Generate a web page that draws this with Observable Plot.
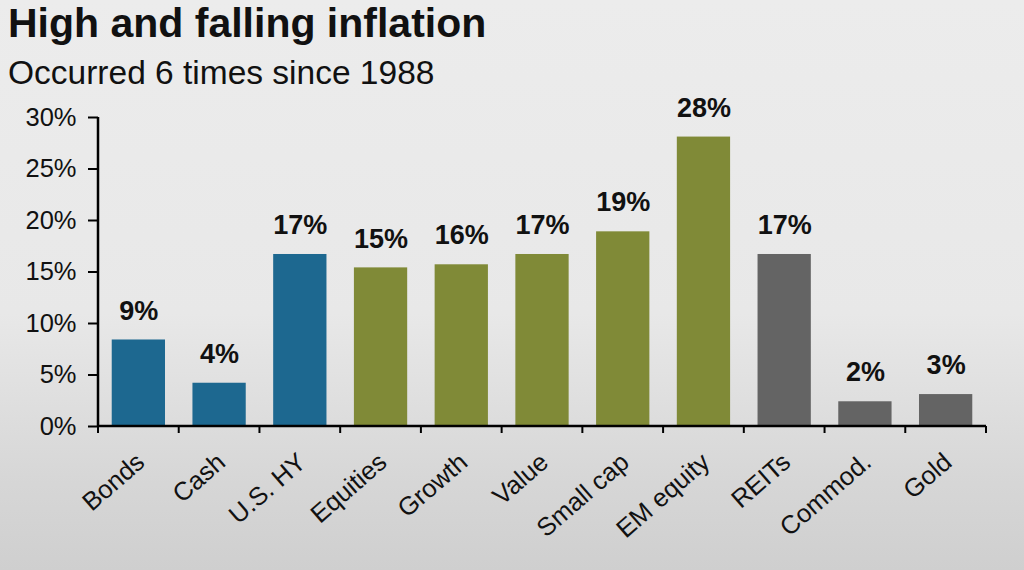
<!DOCTYPE html>
<html>
<head>
<meta charset="utf-8">
<script src="https://cdn.jsdelivr.net/npm/d3@7"></script>
<script src="https://cdn.jsdelivr.net/npm/@observablehq/plot@0.6"></script>
<style>
  html, body { margin: 0; padding: 0; }
  body {
    width: 1024px; height: 570px; overflow: hidden;
    background: linear-gradient(to bottom, #ececec 0%, #e8e8e8 55%, #d6d6d6 85%, #cfcfcf 100%);
    font-family: "Liberation Sans", Arial, sans-serif;
    color: #111;
  }
  #title { position: absolute; left: 8px; top: 0px; font-size: 41px; font-weight: bold; line-height: 1.15; white-space: nowrap; }
  #subtitle { position: absolute; left: 8px; top: 54px; font-size: 33.5px; line-height: 1.15; white-space: nowrap; }
  #chart { position: absolute; left: 0; top: 95px; }
  #chart svg { background: transparent; overflow: visible; }
</style>
</head>
<body>
<div id="title">High and falling inflation</div>
<div id="subtitle">Occurred 6 times since 1988</div>
<div id="chart"></div>
<script>
const categories = ["Bonds", "Cash", "U.S. HY", "Equities", "Growth", "Value", "Small cap", "EM equity", "REITs", "Commod.", "Gold"];
const values = [8.4, 4.2, 16.7, 15.4, 15.7, 16.7, 18.9, 28.1, 16.7, 2.4, 3.1];
const valueLabels = ["9%", "4%", "17%", "15%", "16%", "17%", "19%", "28%", "17%", "2%", "3%"];
const groups = ["Fixed income", "Fixed income", "Fixed income", "Equity", "Equity", "Equity", "Equity", "Equity", "Alternatives", "Alternatives", "Alternatives"];
const groupNames = ["Fixed income", "Equity", "Alternatives"];
const groupColors = ["#1d6890", "#808a37", "#646464"];
const yTicks = [0, 5, 10, 15, 20, 25, 30];

const data = categories.map((c, i) => ({category: c, value: values[i], label: valueLabels[i], group: groups[i]}));

// axis lines and tick marks at band boundaries, drawn from the scales
function axisLines(index, scales, values, dims) {
  const x = scales.x, y = scales.y;
  const dom = x.domain();
  const bw = x.bandwidth();
  const step = x.step();
  const gap = (step - bw) / 2;
  const y0 = y(0);
  const g = d3.create("svg:g");
  const xs = dom.map(d => x(d) - gap);
  xs.push(x(dom[dom.length - 1]) + bw + gap);
  g.append("line").attr("x1", xs[0]).attr("x2", xs[0]).attr("y1", y(30)).attr("y2", y0)
    .attr("stroke", "#000").attr("stroke-width", 2.5);
  g.append("line").attr("x1", xs[0]).attr("x2", xs[xs.length - 1]).attr("y1", y0).attr("y2", y0)
    .attr("stroke", "#000").attr("stroke-width", 2.5);
  for (const px of xs) {
    g.append("line").attr("x1", px).attr("x2", px).attr("y1", y0).attr("y2", y0 + 7)
      .attr("stroke", "#000").attr("stroke-width", 2);
  }
  return g.node();
}

const plot = Plot.plot({
  width: 1024,
  height: 475,
  marginLeft: 98,
  marginRight: 38,
  marginTop: 22,
  marginBottom: 144,
  style: {background: "transparent", fontFamily: "Liberation Sans, Arial, sans-serif", color: "#111"},
  x: {domain: categories, paddingInner: 0.34, paddingOuter: 0.17, round: false, label: null},
  y: {domain: [0, 30], label: null},
  color: {domain: groupNames, range: groupColors},
  marks: [
    Plot.barY(data, {x: "category", y: "value", fill: "group"}),
    Plot.text(data, {x: "category", y: "value", text: "label", dy: -29, fontSize: 27, fontWeight: "bold", fill: "#111"}),
    Plot.axisY({ticks: yTicks, tickFormat: d => d + "%", tickSize: 10, tickPadding: 12, fontSize: 25.5, stroke: "#000", strokeWidth: 2}),
    Plot.axisX({tickSize: 0, tickRotate: -41, tickPadding: 8, fontSize: 25.5, dy: 24, dx: 2}),
    axisLines
  ]
});
document.getElementById("chart").appendChild(plot);
</script>
</body>
</html>
